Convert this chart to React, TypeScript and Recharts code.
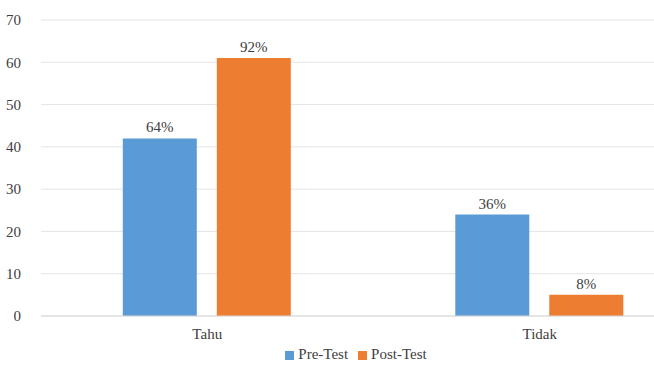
import { BarChart, Bar, XAxis, YAxis, CartesianGrid, Legend, LabelList } from 'recharts';

const categories = ['Tahu', 'Tidak'];
const preTest = [42, 24];
const postTest = [61, 5];
const preLabels = ['64%', '36%'];
const postLabels = ['92%', '8%'];
const yTicks = [0, 10, 20, 30, 40, 50, 60, 70];
const seriesOrder = ['Pre-Test', 'Post-Test'];

const BLUE = '#5B9BD5';
const ORANGE = '#ED7D31';
const FONT = "'Liberation Serif', 'DejaVu Serif', serif";

const data = categories.map((name, i) => ({
  name,
  pre: preTest[i],
  post: postTest[i],
  preLabel: preLabels[i],
  postLabel: postLabels[i],
}));

export default function App() {
  return (
    <div
      style={{
        position: 'absolute',
        left: 0,
        top: 0,
        width: 654,
        height: 365,
        overflow: 'hidden',
        background: '#fff',
        fontFamily: FONT,
      }}
    >
      <BarChart
        width={720}
        height={365}
        data={data}
        margin={{ top: 20, right: 14, bottom: 0, left: 0 }}
        barCategoryGap="24.6%"
        barGap={20}
        style={{ fontFamily: FONT }}
      >
        <CartesianGrid vertical={false} stroke="#E4E4E4" />
        <XAxis
          dataKey="name"
          height={30}
          tickLine={false}
          axisLine={{ stroke: '#D9D9D9' }}
          tick={{ fontSize: 15, fill: '#404040', style: { fontFamily: FONT } }}
          tickMargin={6}
        />
        <YAxis
          width={41}
          domain={[0, 70]}
          ticks={yTicks}
          interval={0}
          tickLine={false}
          axisLine={false}
          tick={{ fontSize: 15, fill: '#404040', style: { fontFamily: FONT } }}
          tickMargin={14}
        />
        <Legend
          verticalAlign="bottom"
          height={19}
          iconType="square"
          iconSize={9}
          itemSorter={(item: any) => seriesOrder.indexOf(item.value)}
          wrapperStyle={{ fontSize: 15, fontFamily: FONT, left: 8, bottom: 0 }}
          formatter={(value) => <span style={{ color: '#404040' }}>{value}</span>}
        />
        <Bar dataKey="pre" name="Pre-Test" fill={BLUE} isAnimationActive={false}>
          <LabelList
            dataKey="preLabel"
            position="top"
            offset={6}
            style={{ fontSize: 15, fill: '#404040', fontFamily: FONT }}
          />
        </Bar>
        <Bar dataKey="post" name="Post-Test" fill={ORANGE} isAnimationActive={false}>
          <LabelList
            dataKey="postLabel"
            position="top"
            offset={6}
            style={{ fontSize: 15, fill: '#404040', fontFamily: FONT }}
          />
        </Bar>
      </BarChart>
    </div>
  );
}
